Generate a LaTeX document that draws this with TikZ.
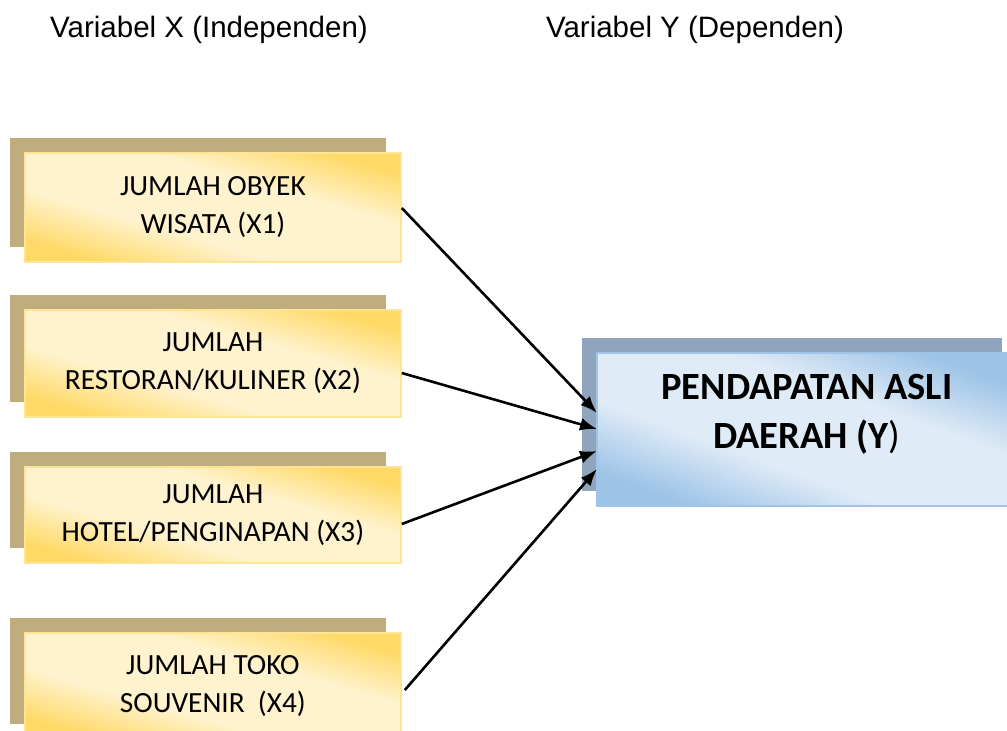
\documentclass[tikz,border=0pt]{standalone}
\usepackage{fontspec}
\setmainfont{Carlito}
\newfontfamily\hdrfont{Liberation Sans}
\usetikzlibrary{shadows,arrows.meta,calc}
\definecolor{ydark}{RGB}{255,217,102}
\definecolor{ylight}{RGB}{255,243,207}
\definecolor{yborder}{RGB}{255,228,150}
\definecolor{ytan}{RGB}{191,173,126}
\definecolor{bdark}{RGB}{157,195,230}
\definecolor{blight}{RGB}{223,235,247}
\definecolor{bborder}{RGB}{160,196,230}
\definecolor{bshadow}{RGB}{143,165,189}
\pgfdeclarehorizontalshading{yshade}{100bp}{color(0bp)=(ydark); color(25bp)=(ydark); color(40bp)=(ylight); color(60bp)=(ylight); color(75bp)=(ydark); color(100bp)=(ydark)}
\pgfdeclarehorizontalshading{bshade}{100bp}{color(0bp)=(bdark); color(25bp)=(bdark); color(40bp)=(blight); color(60bp)=(blight); color(75bp)=(bdark); color(100bp)=(bdark)}
\tikzset{
  xbox/.style={anchor=north west, minimum width=376pt, inner sep=0pt,
    shading=yshade, shading angle=74, draw=yborder, line width=1.8pt,
    general shadow={shadow xshift=-15pt, shadow yshift=15pt, fill=ytan, draw=none},
    font=\fontsize{29.3}{38}\selectfont, align=center, text=black},
  ybox/.style={anchor=north west, minimum width=420pt, minimum height=153pt, inner sep=0pt,
    shading=bshade, shading angle=70, draw=bborder, line width=1.8pt,
    general shadow={shadow xshift=-15pt, shadow yshift=15pt, fill=bshadow, draw=none}},
  ytxt/.style={font=\fontsize{38.5}{49}\selectfont, align=center, text=black, inner sep=0pt},
  hdr/.style={font=\hdrfont\fontsize{29.5}{34}\selectfont, text=black},
  arr/.style={line width=2.6pt, -{Latex[length=17pt,width=13pt]}}
}
\begin{document}
\begin{tikzpicture}[x=1pt,y=-1pt]
\useasboundingbox (0,0) rectangle (1007,731);
\node[hdr] (hx) at (209,30) {Variabel X (Independen)};
\node[hdr] (hy) at (695,30) {Variabel Y (Dependen)};
\node[xbox, minimum height=109pt] (x1) at (24,152) {JUMLAH OBYEK\\WISATA (X1)};
\node[xbox, minimum height=107pt] (x2) at (24,309) {JUMLAH\\RESTORAN/KULINER (X2)};
\node[xbox, minimum height=96pt] (x3) at (24,466) {JUMLAH\\HOTEL/PENGINAPAN (X3)};
\node[xbox, minimum height=106pt] (x4) at (24,632) {JUMLAH TOKO\\SOUVENIR~~(X4)};
\node[ybox] (y) at (596,352) {};
\node[ytxt] (yt) at ($(y.center)+(0,-15)$) {\textbf{PENDAPATAN ASLI}\\\textbf{DAERAH (Y})};
\draw[arr] ($(x1.north east)+(0,56)$) -- ($(y.north west)+(1,61)$);
\draw[arr] ($(x2.north east)+(0,64)$) -- ($(y.north west)+(1,77)$);
\draw[arr] ($(x3.north east)+(0,58)$) -- ($(y.north west)+(1,99)$);
\draw[arr] ($(x4.north east)+(3,58)$) -- ($(y.north west)+(1,117)$);
\end{tikzpicture}
\end{document}
